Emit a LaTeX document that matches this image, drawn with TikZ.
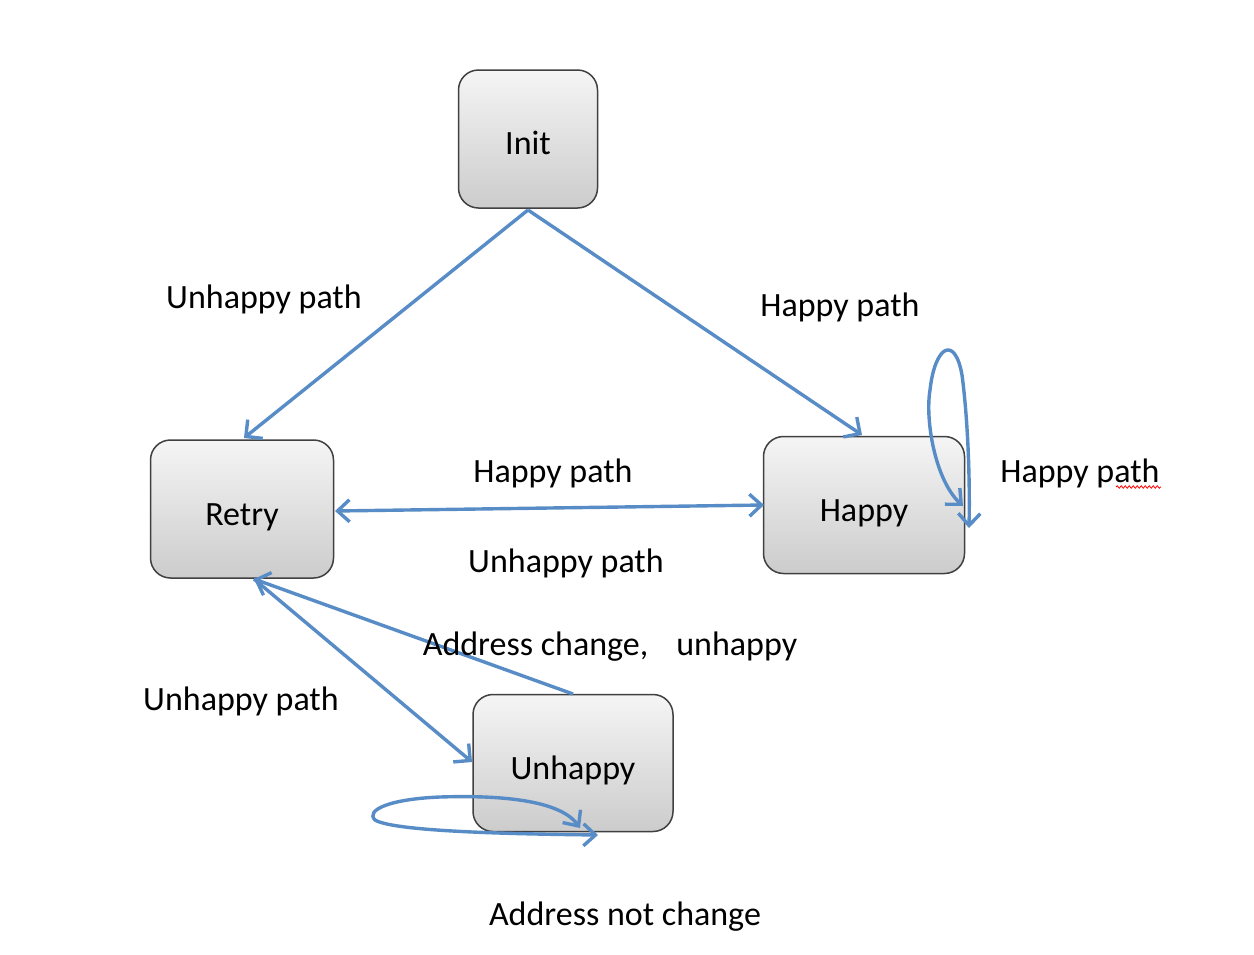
\documentclass[tikz,border=0pt]{standalone}
\usepackage{fontspec}
\setmainfont{Carlito}
\usetikzlibrary{arrows.meta,decorations.pathmorphing}
\definecolor{edgeblue}{RGB}{88,140,198}
\tikzset{
  state/.style={draw=black!75, line width=1.5pt, rounded corners=20pt,
    top color=black!4, bottom color=black!20, font=\fontsize{34}{40}\selectfont,
    inner sep=0pt, text height=32pt, text depth=0pt},
  conn/.style={draw=edgeblue, line width=3.4pt, arrows={-Straight Barb[length=12pt,width=24pt,line width=3.4pt]}},
  both/.style={arrows={Straight Barb[length=12pt,width=22pt,line width=3.4pt]-Straight Barb[length=12pt,width=22pt,line width=3.4pt]}},
  lbl/.style={font=\fontsize{34}{40}\selectfont, inner sep=0pt}
}
\begin{document}
\begin{tikzpicture}[x=1pt,y=-1pt]
\useasboundingbox (0,0) rectangle (1254,954);
\fill[white] (0,0) rectangle (1254,954);
% states
\node[state, minimum width=139pt, minimum height=138pt, text height=30pt] (init) at (528,139) {Init};
\node[state, minimum width=183pt, minimum height=138pt] (retry) at (242,509) {Retry};
\node[state, minimum width=201pt, minimum height=137pt] (happy) at (864,505) {Happy};
\node[state, minimum width=200pt, minimum height=137pt] (unhappy) at (573,763) {Unhappy};
% anchor coordinates
\coordinate (iB) at (528,210);
\coordinate (rT) at (244,438);
\coordinate (hT) at (862,435);
\coordinate (rB) at (254,579);
\coordinate (uL) at (472,762);
\coordinate (uT) at (573,694);
\coordinate (rR) at (335,511);
\coordinate (hL) at (764,505);
% connectors
\draw[conn] (iB) -- (rT);
\draw[conn] (iB) -- (hT);
\draw[conn, both] (rR) -- (hL);
\draw[conn] (rB) -- (uL);
\draw[conn] (uT) -- (rB);
% happy self loop
\coordinate (hl1) at (963,506);
\coordinate (hl2) at (969,528);
\draw[conn, both]
  (hl1) .. controls (935,480) and (925,420) .. (930,390)
        .. controls (935,345) and (955,335) .. (962,375)
        .. controls (968,420) and (970,480) .. (hl2);
% unhappy self loop
\coordinate (ul1) at (580,828);
\coordinate (ul2) at (598,835);
\draw[conn, both]
  (ul1) .. controls (560,800) and (500,795) .. (440,797)
        .. controls (390,799) and (365,810) .. (375,820)
        .. controls (395,832) and (520,834) .. (ul2);
% labels
\node[lbl] (l1) at (264,299) {Unhappy path};
\node[lbl] (l2) at (840,307) {Happy path};
\node[lbl] (l3) at (1080,473) {Happy path};
\node[lbl] (l4) at (553,473) {Happy path};
\node[lbl] (l5) at (566,563) {Unhappy path};
\node[lbl] (l6) at (610,647) {Address change,\hspace{28pt}unhappy};
\node[lbl] (l7) at (241,701) {Unhappy path};
\node[lbl] (l8) at (625,917) {Address not change};
\draw[red, line width=0.8pt, decorate, decoration={snake, amplitude=1.2pt, segment length=4pt}]
  (1116,487) -- (1161,487);
\end{tikzpicture}
\end{document}
